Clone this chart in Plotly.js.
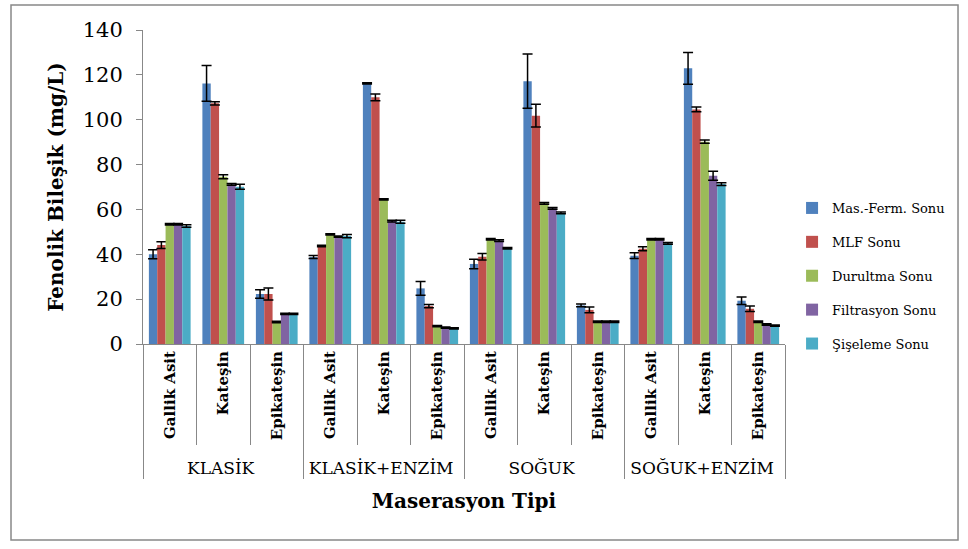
<!DOCTYPE html>
<html><head><meta charset="utf-8">
<script src="https://cdn.plot.ly/plotly-3.0.1.min.js"></script>
<style>body{margin:0;padding:0;background:#fff;}#chart{width:968px;height:549px;}</style>
</head><body><div id="chart"></div>
<script>
const groups = ["KLASİK","KLASİK+ENZİM","SOĞUK","SOĞUK+ENZİM"];
const compounds = ["Gallik Asit","Kateşin","Epikateşin"];
const seriesNames = ["Mas.-Ferm. Sonu","MLF Sonu","Durultma Sonu","Filtrasyon Sonu","Şişeleme Sonu"];
const seriesColors = ["#4F81BD","#C0504D","#9BBB59","#8064A2","#4BACC6"];
// values ordered: KLASİK(GA,K,E), KLASİK+ENZİM(GA,K,E), SOĞUK(...), SOĞUK+ENZİM(...)
const masFerm   = [40.0,116.2,22.3, 38.8,116.2,24.8, 35.7,117.2,17.2, 39.4,122.9,19.3];
const mlf       = [44.1,107.3,22.3, 43.7,110.0,16.9, 38.9,101.8,15.2, 42.5,104.6,15.7];
const durultma  = [53.4, 74.6, 9.8, 48.9, 64.5, 8.0, 46.7, 62.7, 9.9, 46.7, 90.2, 9.9];
const filtrasyon= [53.4, 71.2,13.4, 47.9, 54.8, 7.3, 46.1, 60.5, 9.9, 46.7, 75.0, 8.7];
const siseleme  = [52.6, 70.1,13.4, 48.1, 54.5, 7.0, 42.7, 58.5, 9.9, 44.9, 71.3, 8.2];
const errMasFerm   = [2.0,8.0,1.9, 0.7,0.3,3.1, 2.1,12.1,0.6, 1.3,7.1,1.7];
const errMlf       = [1.5,0.7,2.7, 0.3,1.5,0.7, 1.5,5.1,1.3, 0.9,1.1,1.2];
const errDurultma  = [0.3,0.9,0.3, 0.3,0.3,0.3, 0.3,0.4,0.3, 0.3,0.7,0.3];
const errFiltrasyon= [0.3,0.4,0.3, 0.3,0.4,0.3, 0.4,0.4,0.3, 0.3,2.0,0.3];
const errSiseleme  = [0.6,1.1,0.3, 0.7,0.7,0.3, 0.3,0.4,0.3, 0.4,0.6,0.3];

const values = [masFerm,mlf,durultma,filtrasyon,siseleme];
const errs = [errMasFerm,errMlf,errDurultma,errFiltrasyon,errSiseleme];

const pad = '\u00a0';
const xGroups = [], xCats = [];
groups.forEach(g => compounds.forEach(c => {
  xGroups.push('<span style="font-size:17px">' + g + '</span>');
  xCats.push(pad + '<b>' + c + '</b>');
}));

const traces = seriesNames.map((n,i) => ({
  type:'bar', name:n, x:[xGroups,xCats], y:values[i],
  marker:{color:seriesColors[i]}, legendgroup:'g'+i,
  error_y:{type:'data', array:errs[i], visible:true, color:'#000', thickness:1.5, width:5}
}));

const serif = "DejaVu Serif";
const layout = {
  width:968, height:549,
  margin:{l:143, r:183, t:30, b:205},
  paper_bgcolor:'#fff', plot_bgcolor:'#fff',
  barmode:'group', bargap:0.22, bargroupgap:0,
  font:{family:serif, color:'#000'},
  showlegend:true,
  legend:{x:1.011, y:0.2166, yanchor:'middle', xanchor:'left', font:{family:serif,size:13,color:'#000'},
          tracegroupgap:14, itemwidth:30, traceorder:'grouped', bgcolor:'rgba(0,0,0,0)'},
  yaxis:{range:[0,140], dtick:20, showgrid:false, zeroline:false, showline:true, linecolor:'#888', linewidth:1,
         ticks:'outside', ticklen:6, tickcolor:'#888', ticklabelstandoff:9,
         tickfont:{family:serif,size:21,color:'#000'},
         title:{text:'<b>Fenolik Bileşik (mg/L)</b>', font:{family:serif,size:20,color:'#000'}, standoff:13}},
  xaxis:{type:'multicategory', showgrid:false, zeroline:false, showline:true, linecolor:'#888', linewidth:1,
         ticks:'outside', ticklen:100, tickcolor:'#888', tickson:'boundaries', tickangle:-90,
         tickfont:{family:serif,size:15,color:'#000'},
         showdividers:true, dividercolor:'#888', dividerwidth:1,
         title:{text:'<b>Maserasyon Tipi</b>', font:{family:serif,size:20,color:'#000'}}},
  shapes:[{type:'rect', xref:'paper', yref:'paper', x0:-0.2056, x1:1.2695, y0:-0.624, y1:1.0796,
           line:{color:'#888', width:1.5}, fillcolor:'rgba(0,0,0,0)', layer:'below'}]
};
Plotly.newPlot('chart', traces, layout, {displayModeBar:false, staticPlot:true});
</script></body></html>
